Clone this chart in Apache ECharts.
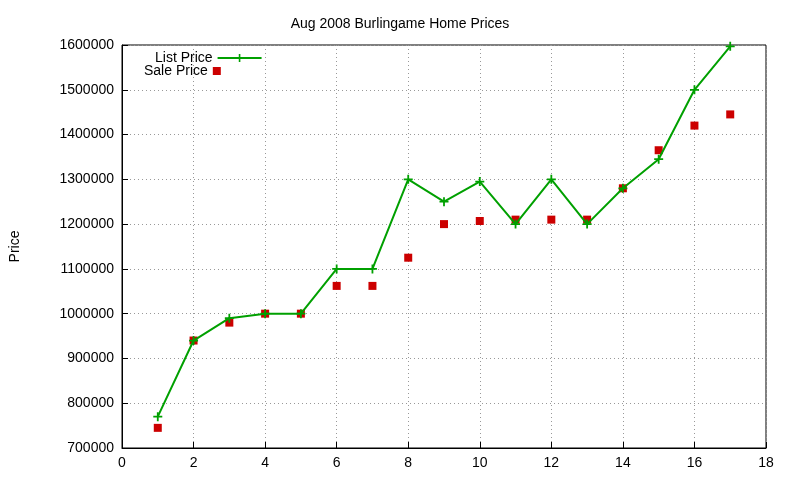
<!DOCTYPE html>
<html><head><meta charset="utf-8">
<script src="https://cdn.jsdelivr.net/npm/echarts@6/dist/echarts.min.js"></script>
<style>html,body{margin:0;padding:0;background:#fff}#c{width:800px;height:480px}</style>
</head><body><div id="c"></div>
<script>
const xs = [1,2,3,4,5,6,7,8,9,10,11,12,13,14,15,16,17];
const listPrice = [770000,940000,990000,1000000,1000000,1100000,1100000,1300000,1250000,1295000,1200000,1300000,1200000,1280000,1345000,1500000,1597000];
const salePrice = [745000,940000,980000,1000000,1000000,1062000,1062000,1125000,1200000,1207000,1210000,1210000,1210000,1280000,1365000,1420000,1445000];
const chart = echarts.init(document.getElementById('c'));
const f = 'Liberation Sans, Arial, sans-serif';
const plus = 'path://M4,0H6V4H10V6H6V10H4V6H0V4H4Z';
const ts = {fontFamily:f,fontSize:14,color:'#000'};
chart.setOption({
  animation:false,
  title:{text:'Aug 2008 Burlingame Home Prices',left:'center',top:12,textStyle:{fontFamily:f,fontSize:14,fontWeight:'normal',color:'#000'}},
  legend:[
    {left:150,top:46,align:'right',itemWidth:44,itemHeight:10,textStyle:ts,data:['List Price']},
    {left:144,top:64,align:'right',itemWidth:8,itemHeight:8,itemGap:0,textStyle:ts,padding:[0,18,0,0],data:['Sale Price']}
  ],
  grid:{left:119,right:34,top:45,bottom:32,show:true,borderColor:'#000',borderWidth:1},
  xAxis:{type:'value',min:0,max:18,interval:2,
    axisLine:{lineStyle:{color:'#000'}},axisTick:{inside:true,length:6,lineStyle:{color:'#000'}},
    axisLabel:{fontFamily:f,fontSize:14,color:'#000'},
    splitLine:{lineStyle:{color:'#999',type:[1,3]}}},
  yAxis:{type:'value',min:700000,max:1600000,interval:100000,name:'Price',nameLocation:'middle',nameGap:100,
    nameTextStyle:ts,
    axisLine:{lineStyle:{color:'#000'}},axisTick:{inside:true,length:6,lineStyle:{color:'#000'}},
    axisLabel:{fontFamily:f,fontSize:14,color:'#000',formatter:v=>String(v)},
    splitLine:{lineStyle:{color:'#999',type:[1,3]}}},
  series:[
    {name:'List Price',type:'line',data:xs.map((x,i)=>[x,listPrice[i]]),symbol:plus,symbolSize:9,
      lineStyle:{color:'#00a000',width:2},itemStyle:{color:'#00a000'}},
    {name:'Sale Price',type:'scatter',data:xs.map((x,i)=>[x,salePrice[i]]),symbol:'rect',symbolSize:8,
      itemStyle:{color:'#cc0000',opacity:1}}
  ]
});
</script></body></html>
